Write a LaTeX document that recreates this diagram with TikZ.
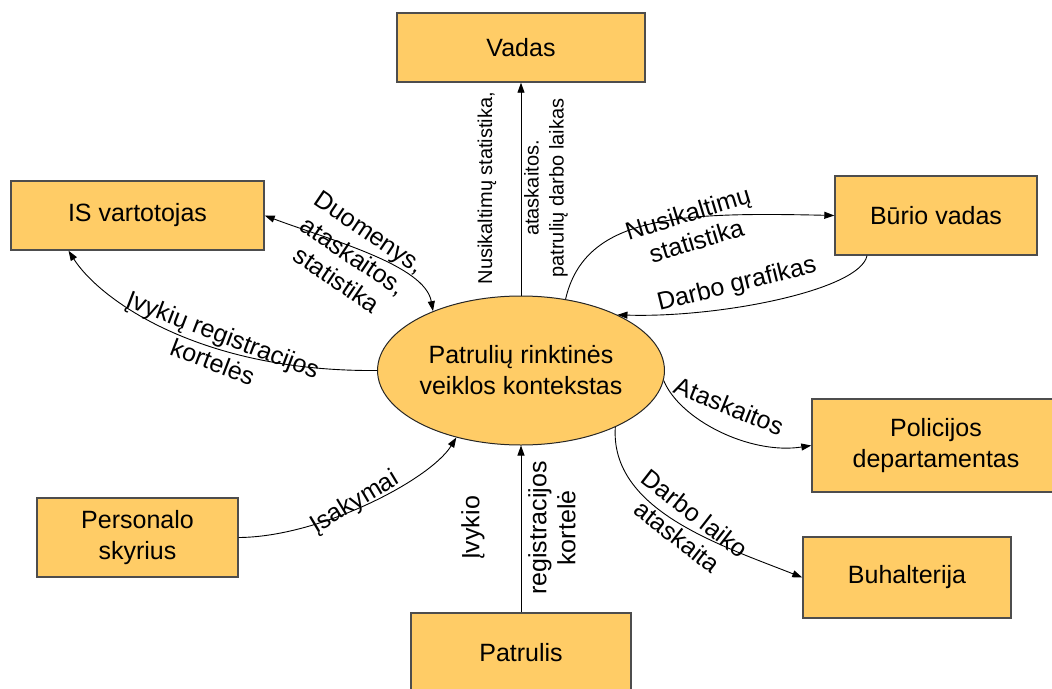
\documentclass[tikz,border=0pt]{standalone}
\usepackage{fontspec}
\setmainfont{Liberation Sans}
\usetikzlibrary{arrows.meta,shapes.geometric}
\definecolor{boxfill}{HTML}{FFCC66}
\definecolor{boxline}{HTML}{4D4D4D}

\begin{document}
\begin{tikzpicture}[x=1pt,y=-1pt,
  entity/.style={draw=boxline,line width=1.4pt,fill=boxfill,rectangle,inner sep=0pt,
    align=center,font=\fontsize{25}{31}\selectfont},
  process/.style={draw=black!85,line width=1pt,fill=boxfill,ellipse,inner sep=0pt,
    minimum width=254pt,minimum height=149pt,align=center,font=\fontsize{25}{31}\selectfont},
  flow/.style={line width=0.9pt,-{Triangle[length=10pt,width=7pt]}},
  lbl/.style={inner sep=0pt,align=center,font=\fontsize{25}{29}\selectfont},
  smalllbl/.style={inner sep=0pt,align=center,font=\fontsize{20}{25}\selectfont}]

\useasboundingbox (0,0) rectangle (1052,688);

% central process
\node[process] (c) at (521,370.5) {Patrulių rinktinės\\veiklos kontekstas};

% external entities
\node[entity,minimum width=248pt,minimum height=69pt] (vadas) at (521,47.5) {Vadas};
\node[entity,minimum width=253pt,minimum height=69pt] (is) at (137.5,215.5) {IS vartotojas};
\node[entity,minimum width=202pt,minimum height=79pt] (bv) at (936,215.5) {Būrio vadas};
\node[entity,minimum width=248pt,minimum height=93pt] (pd) at (936,445.5) {Policijos\\departamentas};
\node[entity,minimum width=208pt,minimum height=81pt] (bu) at (907,577.5) {Buhalterija};
\node[entity,minimum width=201pt,minimum height=79pt] (ps) at (137.5,537.5) {Personalo\\skyrius};
\node[entity,minimum width=220pt,minimum height=80pt] (pa) at (521,653) {Patrulis};

% data flows
\draw[flow] (c.north) -- (vadas.south);
\draw[flow] (pa.north) -- (c.south);
\draw[flow] (c.west) .. controls (200,372) and (100,300) .. ([xshift=-69pt]is.south);
\draw[line width=0.9pt,{Triangle[length=10pt,width=7pt]}-{Triangle[length=10pt,width=7pt]}]
  (is.east) .. controls (330,240) and (425,265) .. (c.146);
\draw[flow] (c.58) .. controls (585,215) and (680,212) .. (bv.west);
\draw[flow] ([xshift=-69pt]bv.south) .. controls (860,290) and (720,318) .. (c.30);
\draw[flow] (c.-4) .. controls (680,420) and (750,455) .. (pd.west);
\draw[flow] (c.-31) .. controls (610,510) and (720,545) .. (bu.west);
\draw[flow] (ps.east) .. controls (320,537) and (430,480) .. (c.-134);

% flow labels
\node[smalllbl,rotate=90] (l1) at (487,188) {Nusikaltimų statistika,};
\node[smalllbl,rotate=90] (l2) at (546,188) {ataskaitos.\\patrulių darbo laikas};
\node[lbl,rotate=90] (l3) at (473,528) {Įvykio};
\node[lbl,rotate=90] (l4) at (552,528) {registracijos\\kortelė};
\node[lbl,rotate=-34] (l5) at (353,256) {Duomenys,\\ataskaitos,\\statistika};
\node[lbl,rotate=-21] (l6) at (218,348) {Įvykių registracijos\\kortelės};
\node[lbl,rotate=17] (l7) at (692,227) {Nusikaltimų\\statistika};
\node[lbl,rotate=14] (l8) at (737,285) {Darbo grafikas};
\node[lbl,rotate=-22] (l9) at (729,406) {Ataskaitos};
\node[lbl,rotate=-38] (l10) at (686,525) {Darbo laiko\\ataskaita};
\node[lbl,rotate=31] (l11) at (355,503) {Įsakymai};
\end{tikzpicture}
\end{document}
